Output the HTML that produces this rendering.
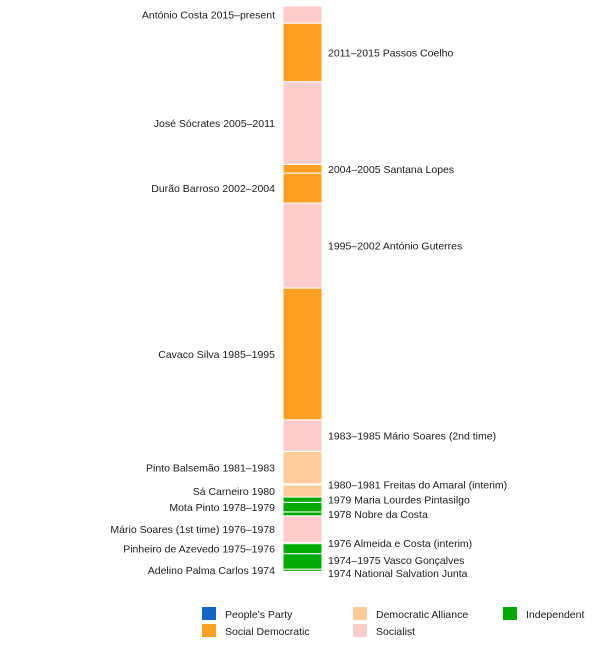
<!DOCTYPE html>
<html><head><meta charset="utf-8"><style>
body{margin:0;background:#fff;}
svg text{font-family:"Liberation Sans",sans-serif;font-size:10.5px;fill:#1a1a1a;}
</style></head><body>
<svg width="605" height="660" id="chart">
<g id="bars"></g>
<g id="labels"></g>
<g id="legend"></g>
</svg>
<script>
const names = ["National Salvation Junta","Adelino Palma Carlos","Vasco Gonçalves","Pinheiro de Azevedo","Almeida e Costa (interim)","Mário Soares (1st time)","Nobre da Costa","Mota Pinto","Maria Lourdes Pintasilgo","Sá Carneiro","Freitas do Amaral (interim)","Pinto Balsemão","Mário Soares (2nd time)","Cavaco Silva","António Guterres","Durão Barroso","Santana Lopes","José Sócrates","Passos Coelho","António Costa"];
const periods = ["1974","1974","1974–1975","1975–1976","1976","1976–1978","1978","1978–1979","1979","1980","1980–1981","1981–1983","1983–1985","1985–1995","1995–2002","2002–2004","2004–2005","2005–2011","2011–2015","2015–present"];
const starts = [1974.32,1974.37,1974.54,1975.71,1976.47,1976.56,1978.58,1978.87,1979.60,1980.00,1980.93,1981.00,1983.45,1985.85,1995.83,2002.27,2004.54,2005.20,2011.47,2015.90];
const ends = [1974.37,1974.54,1975.71,1976.47,1976.56,1978.58,1978.87,1979.60,1980.00,1980.93,1981.00,1983.45,1985.85,1995.83,2002.27,2004.54,2005.20,2011.47,2015.90,2017.20];
const parties = ["Independent","Independent","Independent","Independent","Independent","Socialist","Independent","Independent","Independent","Democratic Alliance","People's Party","Democratic Alliance","Socialist","Social Democratic","Socialist","Social Democratic","Social Democratic","Socialist","Social Democratic","Socialist"];
const legendParties = ["People's Party","Social Democratic","Democratic Alliance","Socialist","Independent"];
const colors = {"People's Party":"#1565c8","Social Democratic":"#ff9f22","Democratic Alliance":"#ffcc99","Socialist":"#ffcccc","Independent":"#00aa00"};

const NS="http://www.w3.org/2000/svg";
const y0=1974.32, y1=2017.2, pyB=572, pyT=6;
const y = v => pyB - (v - y0) * (pyB - pyT) / (y1 - y0);
const bx=283, bw=39;
const bars=document.getElementById('bars');
const labs=document.getElementById('labels');
const left=[], right=[];
names.forEach((n,i)=>{
  const r=document.createElementNS(NS,'rect');
  
  
  r.setAttribute('x',bx);r.setAttribute('width',bw);
  const top=y(ends[i]), bot=y(starts[i]);
  r.setAttribute('y',top);r.setAttribute('height',Math.max(bot-top,0.5));
  r.setAttribute('fill',colors[parties[i]]);
  r.setAttribute('stroke','#fff');r.setAttribute('stroke-width','1');
  bars.appendChild(r);
  const mid=(top+bot)/2;
  const isLeft = i%2===1;
  (isLeft?left:right).push({i,mid,ly:mid});
});
function repel(arr){
  arr.sort((a,b)=>a.mid-b.mid);
  for(let k=0;k<200;k++){
    for(let j=1;j<arr.length;j++){
      const d=arr[j].ly-arr[j-1].ly;
      if(d<13){const s=(13-d)/2;arr[j].ly+=s;arr[j-1].ly-=s;}
    }
  }
}
repel(left);repel(right);
left.forEach(o=>{
  const t=document.createElementNS(NS,'text');
  
  
  t.setAttribute('x',275);t.setAttribute('y',o.ly+4);
  t.setAttribute('text-anchor','end');
  t.textContent=names[o.i]+' '+periods[o.i];
  labs.appendChild(t);
});
right.forEach(o=>{
  const t=document.createElementNS(NS,'text');
  
  
  t.setAttribute('x',328);t.setAttribute('y',o.ly+4);
  t.textContent=periods[o.i]+' '+names[o.i];
  labs.appendChild(t);
});
const lg=document.getElementById('legend');
const lx=[202,202,353,353,503], ly=[607,624,607,624,607];
legendParties.forEach((p,i)=>{
  const r=document.createElementNS(NS,'rect');
  
  
  r.setAttribute('x',lx[i]);r.setAttribute('y',ly[i]);r.setAttribute('width',14);r.setAttribute('height',13);
  r.setAttribute('fill',colors[p]);
  lg.appendChild(r);
  const t=document.createElementNS(NS,'text');
  
  
  t.setAttribute('x',lx[i]+23);t.setAttribute('y',ly[i]+11);
  t.textContent=p;
  lg.appendChild(t);
});
</script>
</body></html>
